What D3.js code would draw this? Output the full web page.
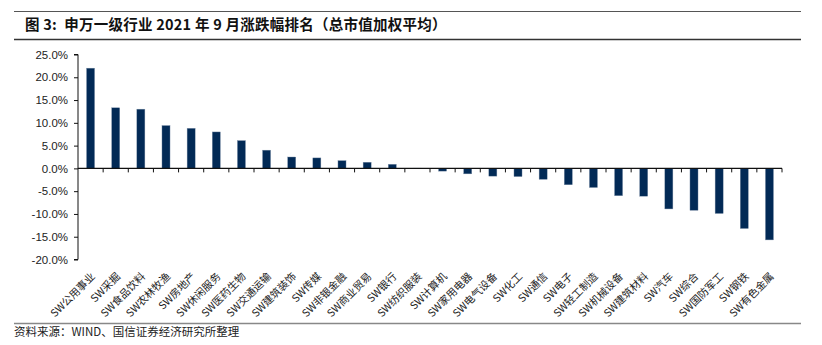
<!DOCTYPE html>
<html><head><meta charset="utf-8">
<script src="https://cdn.jsdelivr.net/npm/d3@7"></script>
<style>
html,body{margin:0;padding:0;background:#fff;}
svg{display:block;}
</style>
</head><body>
<svg id="chart" width="822" height="345"></svg>
<script>
const categories = ["SW公用事业","SW采掘","SW食品饮料","SW农林牧渔","SW房地产","SW休闲服务","SW医药生物","SW交通运输","SW建筑装饰","SW传媒","SW非银金融","SW商业贸易","SW银行","SW纺织服装","SW计算机","SW家用电器","SW电气设备","SW化工","SW通信","SW电子","SW轻工制造","SW机械设备","SW建筑材料","SW汽车","SW综合","SW国防军工","SW钢铁","SW有色金属"];
const values = [22.0,13.3,13.0,9.4,8.8,8.0,6.1,4.0,2.5,2.3,1.7,1.35,0.9,0.05,-0.6,-1.2,-1.7,-1.8,-2.4,-3.6,-4.2,-6.0,-6.1,-8.9,-9.2,-9.9,-13.2,-15.7];
const yTicks = [25,20,15,10,5,0,-5,-10,-15,-20];
const titleText = "图 3:  申万一级行业 2021 年 9 月涨跌幅排名（总市值加权平均）";
const sourceText = "资料来源：WIND、国信证券经济研究所整理";

const svg = d3.select("#chart");

// frame lines
svg.append("line").attr("x1",14).attr("x2",801).attr("y1",11.5).attr("y2",11.5).attr("stroke","#555").attr("stroke-width",1);
svg.append("line").attr("x1",14).attr("x2",801).attr("y1",39.5).attr("y2",39.5).attr("stroke","#333").attr("stroke-width",1.5);
svg.append("line").attr("x1",14).attr("x2",801).attr("y1",323.5).attr("y2",323.5).attr("stroke","#888").attr("stroke-width",1.5);

svg.append("text").attr("x",25).attr("y",30)
  .style("white-space","pre")
  .attr("font-family","'Noto Sans CJK SC', sans-serif").attr("font-weight","bold")
  .attr("font-size",14.5).attr("letter-spacing",0.25).attr("fill","#111").text(titleText);

svg.append("text").attr("x",14).attr("y",336)
  .attr("font-family","'Noto Sans CJK SC', sans-serif")
  .attr("font-size",11.5).attr("fill","#222").text(sourceText);

const x0 = 78, x1 = 782;
const x = d3.scaleBand().domain(categories).range([x0,x1]).paddingInner(0).paddingOuter(0);
const y = d3.scaleLinear().domain([-20,25]).range([259.5,54.5]);

// bars
const bw = x.bandwidth()*0.32;
svg.append("g").selectAll("rect").data(values).join("rect")
  .attr("x",(d,i)=>x(categories[i])+x.bandwidth()/2-bw/2)
  .attr("width",bw)
  .attr("y",d=>Math.min(y(d),y(0)))
  .attr("height",d=>Math.abs(y(d)-y(0)))
  .attr("fill","#022a56")
  .attr("stroke","#7d8fa8").attr("stroke-width",0.4);

// y axis
const yAxis = d3.axisLeft(y).tickValues(yTicks).tickFormat(d=>d.toFixed(1)+"%").tickSize(4).tickPadding(6);
const gy = svg.append("g").attr("transform",`translate(${x0},0)`).call(yAxis);
gy.select(".domain").attr("stroke","#111").attr("d",`M-4,${y(25)}H0V${y(-20)}H-4`);
gy.selectAll(".tick line").attr("stroke","#111");
gy.selectAll(".tick text").attr("font-family","'Liberation Sans', Arial, sans-serif").attr("font-size",11.5).attr("fill","#222");

// x axis at zero
const gx = svg.append("g").attr("transform",`translate(0,${y(0)})`);
gx.append("line").attr("x1",x0).attr("x2",x1).attr("y1",0).attr("y2",0).attr("stroke","#111").attr("stroke-width",1.2);
const bounds = categories.map(c=>x(c)).concat([x1]);
gx.selectAll("line.t").data(bounds.slice(1)).join("line").attr("class","t")
  .attr("x1",d=>d).attr("x2",d=>d).attr("y1",0).attr("y2",4).attr("stroke","#111");

// category labels
svg.append("g").selectAll("text").data(categories).join("text")
  .attr("transform",c=>`translate(${x(c)+x.bandwidth()/2+2.5},274.5) rotate(-45)`)
  .attr("text-anchor","end").attr("dy","0.35em")
  .attr("font-family","'Noto Sans CJK SC', sans-serif")
  .attr("font-size",10.5).attr("fill","#222").text(c=>c);
</script>
</body></html>
